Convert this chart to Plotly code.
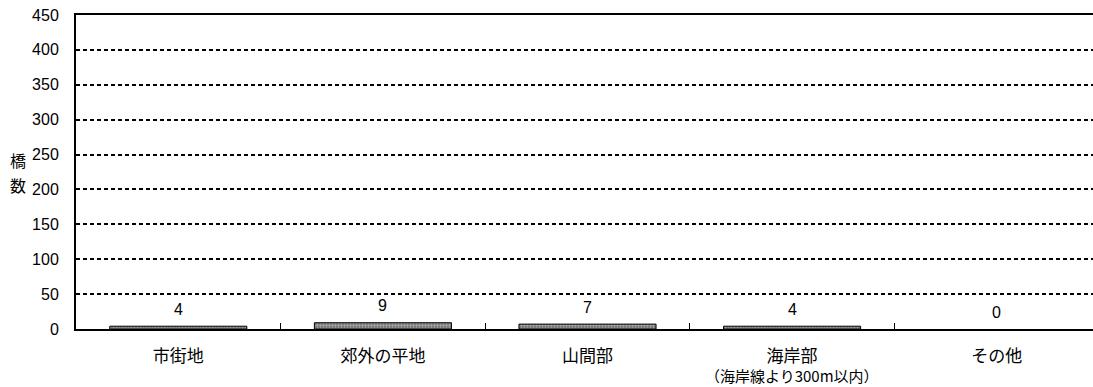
import plotly.graph_objects as go

# Bridge counts by location category
categories = ["市街地", "郊外の平地", "山間部", "海岸部", "その他"]
sub_labels = ["", "", "", "（海岸線より300m以内）", ""]
counts = [4, 9, 7, 4, 0]
y_ticks = [0, 50, 100, 150, 200, 250, 300, 350, 400, 450]
axis_title_chars = ["橋", "数"]

num_font = "Liberation Sans, Arial, Noto Sans CJK JP"
jp_font = "Noto Sans CJK JP, Liberation Sans"

# Empty categories get no outline so nothing is drawn on the baseline
outline_widths = [1 if v > 0 else 0 for v in counts]

fig = go.Figure()
fig.add_trace(go.Bar(
    x=categories,
    y=counts,
    width=0.67,
    marker=dict(
        color="#7a7a7a",
        line=dict(color="#000000", width=outline_widths),
        pattern=dict(shape=".", fgcolor="#e8e8e8", bgcolor="#707070", size=3, solidity=0.45),
    ),
    showlegend=False,
    hoverinfo="skip",
))

# Value labels above each bar
for cat, v in zip(categories, counts):
    fig.add_annotation(
        x=cat, y=v, text=str(v), showarrow=False,
        yanchor="middle", yshift=17,
        font=dict(family=num_font, size=16, color="#000"),
    )

# Second line under a category label
for cat, sub in zip(categories, sub_labels):
    if sub:
        fig.add_annotation(
            x=cat, xref="x", yref="paper", y=0, text=sub, showarrow=False,
            yanchor="middle", yshift=-46,
            font=dict(family=jp_font, size=15, color="#000"),
        )

# Vertical axis title, one character per line
for k, ch in enumerate(axis_title_chars):
    fig.add_annotation(
        xref="paper", yref="paper", x=-0.057, y=0.5, text=ch, showarrow=False,
        xanchor="center", yanchor="middle", yshift=12 - 25 * k,
        font=dict(family=jp_font, size=16, color="#000"),
    )

fig.update_layout(
    width=1093, height=387,
    margin=dict(l=76, r=0, t=15, b=58),
    paper_bgcolor="#ffffff",
    plot_bgcolor="#ffffff",
)

fig.update_xaxes(
    type="category",
    range=[-0.5, -0.5 + 1017 / 204.6],
    automargin=False,
    showline=True, linecolor="#000", linewidth=2, mirror=True,
    showgrid=False, zeroline=False,
    ticks="inside", ticklen=6, tickcolor="#000", tickwidth=1,
    tickson="boundaries",
    ticklabelstandoff=11,
    tickfont=dict(family=jp_font, size=17, color="#000"),
)

fig.update_yaxes(
    range=[0, 450],
    automargin=False,
    tickmode="array", tickvals=y_ticks,
    showline=True, linecolor="#000", linewidth=2, mirror=False,
    showgrid=True, gridcolor="#000", gridwidth=2, griddash="4px,3px",
    zeroline=False,
    ticks="", ticklabelstandoff=12,
    tickfont=dict(family=num_font, size=16, color="#000"),
)

fig.write_html("out.html")
